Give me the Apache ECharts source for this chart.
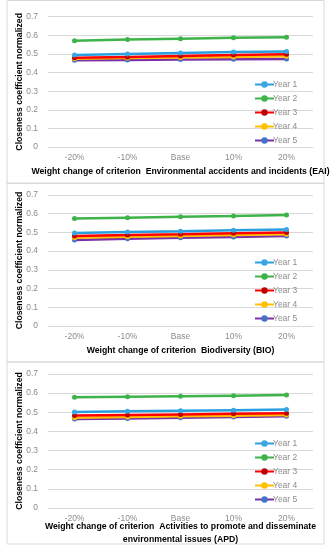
<!DOCTYPE html>
<html><head><meta charset="utf-8">
<script src="https://cdn.jsdelivr.net/npm/echarts@6/dist/echarts.min.js"></script>
<style>html,body{margin:0;padding:0;background:#fff}#c{width:330px;height:550px}</style>
</head><body><div id="c"></div>
<script>
const categories = ['-20%', '-10%', 'Base', '10%', '20%'];
const yTicks = [0, 0.1, 0.2, 0.3, 0.4, 0.5, 0.6, 0.7];
const seriesNames = ['Year 1', 'Year 2', 'Year 3', 'Year 4', 'Year 5'];
const panelTitles = [
  'Weight change of criterion  Environmental accidents and incidents (EAI)',
  'Weight change of criterion  Biodiversity (BIO)',
  'Weight change of criterion  Activities to promote and disseminate\nenvironmental issues (APD)'
];
const yTitle = 'Closeness coefficient normalized';

// Panel 1: EAI
const eaiYear1 = [0.494, 0.500, 0.505, 0.510, 0.513];
const eaiYear2 = [0.571, 0.577, 0.582, 0.587, 0.589];
const eaiYear3 = [0.479, 0.484, 0.489, 0.494, 0.498];
const eaiYear4 = [0.474, 0.478, 0.481, 0.484, 0.487];
const eaiYear5 = [0.466, 0.468, 0.470, 0.472, 0.473];
// Panel 2: BIO
const bioYear1 = [0.497, 0.502, 0.506, 0.511, 0.515];
const bioYear2 = [0.574, 0.579, 0.584, 0.588, 0.593];
const bioYear3 = [0.481, 0.486, 0.490, 0.495, 0.499];
const bioYear4 = [0.472, 0.477, 0.481, 0.486, 0.490];
const bioYear5 = [0.460, 0.466, 0.471, 0.476, 0.481];
// Panel 3: APD
const apdYear1 = [0.502, 0.505, 0.508, 0.511, 0.514];
const apdYear2 = [0.578, 0.581, 0.584, 0.587, 0.590];
const apdYear3 = [0.483, 0.486, 0.489, 0.492, 0.495];
const apdYear4 = [0.472, 0.476, 0.479, 0.482, 0.486];
const apdYear5 = [0.465, 0.468, 0.472, 0.475, 0.479];

const panels = [
  [eaiYear1, eaiYear2, eaiYear3, eaiYear4, eaiYear5],
  [bioYear1, bioYear2, bioYear3, bioYear4, bioYear5],
  [apdYear1, apdYear2, apdYear3, apdYear4, apdYear5]
];

const lineColors = ['#2a9fe0', '#3db34a', '#ff0000', '#ffc000', '#7a30a8'];
const markColors = ['#3aa6e4', '#3db34a', '#c00000', '#ffc000', '#4472c4'];

const gridDefs = [
  {top: 16.7, height: 130.3},
  {top: 195, height: 131},
  {top: 374, height: 134}
];
const nameGaps = [18, 18, 12];
const legendTops = [80, 258, 439];
const panelRects = [[7, 0.5, 317, 183], [7, 183, 317, 179], [7, 362, 317, 182]];

const FONT = '"Liberation Sans", Arial, sans-serif';

const grid = [], xAxis = [], yAxis = [], series = [], legend = [], graphic = [];
panels.forEach((vals, p) => {
  grid.push({left: 48, width: 265, top: gridDefs[p].top, height: gridDefs[p].height, containLabel: false, outerBoundsMode: 'none'});
  xAxis.push({
    type: 'category', gridIndex: p, data: categories, boundaryGap: true,
    axisLine: {lineStyle: {color: '#d9d9d9'}}, axisTick: {show: false},
    axisLabel: {color: '#8c8c8c', fontSize: 8.5, fontFamily: FONT, margin: 6},
    name: panelTitles[p], nameLocation: 'middle', nameGap: nameGaps[p], nameMoveOverlap: false,
    nameTextStyle: {color: '#000', fontWeight: 'bold', fontSize: 8.7, fontFamily: FONT, lineHeight: 13, verticalAlign: 'top'}
  });
  yAxis.push({
    type: 'value', gridIndex: p, min: 0, max: 0.7, interval: 0.1,
    axisLine: {show: false}, axisTick: {show: false},
    splitLine: {lineStyle: {color: '#d9d9d9', width: 1}},
    axisLabel: {color: '#8c8c8c', fontSize: 8.5, fontFamily: FONT, margin: 10,
      formatter: v => { const t = yTicks.find(x => Math.abs(x - v) < 1e-9); return t === 0 ? '0' : (t !== undefined ? t.toFixed(1) : ''); }},
    name: yTitle, nameLocation: 'middle', nameGap: 24, nameRotate: 90, nameMoveOverlap: false,
    nameTextStyle: {color: '#000', fontWeight: 'bold', fontSize: 8.7, fontFamily: FONT}
  });
  vals.forEach((d, i) => {
    series.push({
      type: 'line', name: seriesNames[i], xAxisIndex: p, yAxisIndex: p, data: d,
      symbol: 'circle', symbolSize: 5, showSymbol: true,
      lineStyle: {color: lineColors[i], width: 2.5},
      itemStyle: {color: markColors[i]}, color: lineColors[i],
      z: 10 - i, animation: false
    });
  });
  legend.push({
    data: seriesNames, orient: 'vertical', left: 254, top: legendTops[p], padding: 0,
    itemWidth: 19, itemHeight: 8, itemGap: 5, selectedMode: false,
    textStyle: {color: '#8c8c8c', fontSize: 8.5, fontFamily: FONT, padding: [0, 0, 0, -6]}
  });
  const r = panelRects[p];
  graphic.push({type: 'rect', shape: {x: r[0], y: r[1], width: r[2], height: r[3]}, style: {fill: 'none', stroke: '#d9d9d9', lineWidth: 1}, silent: true, z: -1});
});

const chart = echarts.init(document.getElementById('c'), null, {renderer: 'canvas'});
chart.setOption({animation: false, grid, xAxis, yAxis, series, legend, graphic});
</script></body></html>
